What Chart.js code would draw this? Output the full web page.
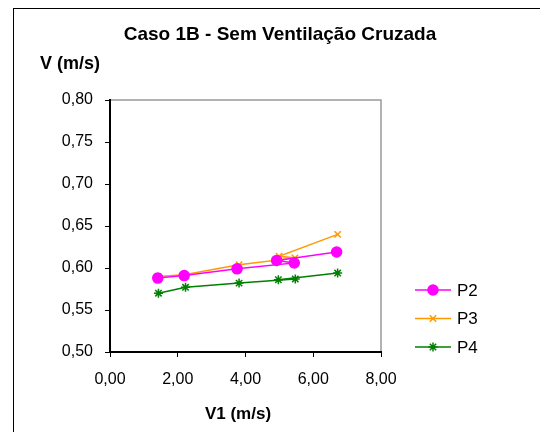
<!DOCTYPE html>
<html>
<head>
<meta charset="utf-8">
<script src="https://cdn.jsdelivr.net/npm/chart.js@4"></script>
<style>
  html, body { margin: 0; padding: 0; background: #fff; }
  #box { width: 540px; height: 432px; }
</style>
</head>
<body>
<div id="box"><canvas id="grafico" width="540" height="432"></canvas></div>
<script>
// dati (V1 in ascissa, V in ordinata)
const v1P2 = [1.41, 2.19, 3.75, 5.44, 4.92, 6.69];
const vP2  = [0.588, 0.591, 0.599, 0.606, 0.609, 0.619];
const v1P3 = [1.41, 2.19, 3.81, 5.46, 4.99, 6.72];
const vP3  = [0.590, 0.592, 0.604, 0.612, 0.614, 0.640];
const v1P4 = [1.43, 2.23, 3.81, 5.47, 4.97, 6.72];
const vP4  = [0.570, 0.577, 0.582, 0.587, 0.586, 0.594];
const serie = ['P2', 'P3', 'P4'];
const titolo = 'Caso 1B - Sem Ventilação Cruzada';
const titoloY = 'V (m/s)';
const titoloX = 'V1 (m/s)';

function punti(xs, ys) {
    return xs.map((x, i) => ({ x: x, y: ys[i] }));
}

const virgola = (v) => v.toFixed(2).replace('.', ',');

// cornice esterna, bordo grigio dell'area, titoli e legenda
const decorazioni = {
    id: 'decorazioni',
    beforeDraw(chart) {
        const c = chart.ctx, a = chart.chartArea;
        c.save();
        c.fillStyle = '#fff';
        c.fillRect(0, 0, chart.width, chart.height);
        c.strokeStyle = '#000';
        c.lineWidth = 1;
        c.strokeRect(13.5, 8.5, 600, 500);
        c.strokeStyle = '#999';
        c.lineWidth = 1.5;
        c.beginPath();
        c.moveTo(a.left, a.top);
        c.lineTo(a.right, a.top);
        c.lineTo(a.right, a.bottom);
        c.stroke();
        c.fillStyle = '#000';
        c.textBaseline = 'middle';
        c.textAlign = 'center';
        c.font = 'bold 19px "Liberation Sans", Arial, sans-serif';
        c.fillText(titolo, 280, 35);
        c.font = 'bold 18px "Liberation Sans", Arial, sans-serif';
        c.textAlign = 'left';
        c.fillText(titoloY, 40, 64);
        c.font = 'bold 17px "Liberation Sans", Arial, sans-serif';
        c.textAlign = 'center';
        c.fillText(titoloX, 238, 414);
        c.restore();
    },
    afterDraw(chart) {
        const c = chart.ctx;
        c.save();
        chart.data.datasets.forEach((ds, i) => {
            const y = 290 + i * 28.5;
            c.strokeStyle = ds.borderColor;
            c.fillStyle = ds.backgroundColor;
            c.lineWidth = 1.5;
            c.beginPath();
            c.moveTo(415, y);
            c.lineTo(451, y);
            c.stroke();
            Chart.helpers.drawPoint(c, {
                pointStyle: ds.pointStyle,
                radius: ds.pointRadius,
                borderWidth: 1.5
            }, 433, y);
            c.fillStyle = '#000';
            c.font = '17px "Liberation Sans", Arial, sans-serif';
            c.textAlign = 'left';
            c.textBaseline = 'middle';
            c.fillText(ds.label, 457, y + 1);
        });
        c.restore();
    }
};

const assi = {
    color: '#000',
    font: { family: '"Liberation Sans", Arial, sans-serif', size: 16 }
};

const ctx = document.getElementById('grafico').getContext('2d');
const grafico = new Chart(ctx, {
    type: 'scatter',
    data: {
        datasets: [
            { label: serie[0], data: punti(v1P2, vP2), borderColor: '#FF00FF', backgroundColor: '#FF00FF',
              pointStyle: 'circle', pointRadius: 5 },
            { label: serie[1], data: punti(v1P3, vP3), borderColor: '#FF9900', backgroundColor: '#FF9900',
              pointStyle: 'crossRot', pointRadius: 4.5 },
            { label: serie[2], data: punti(v1P4, vP4), borderColor: '#008000', backgroundColor: '#008000',
              pointStyle: 'star', pointRadius: 4.5 }
        ].map(d => Object.assign(d, { showLine: true, borderWidth: 1.5, pointBorderWidth: 1.5 }))
    },
    options: {
        responsive: false,
        animation: false,
        layout: { padding: { left: 20, top: 100, right: 159, bottom: 40 } },
        plugins: {
            legend: { display: false },
            title: { display: false },
            tooltip: { enabled: false }
        },
        scales: {
            x: {
                min: 0, max: 8,
                afterFit: (s) => { s.height = 40; },
                ticks: { stepSize: 2, color: assi.color, font: assi.font, padding: 13,
                         callback: (v) => virgola(v) },
                grid: { drawOnChartArea: false, color: '#000', tickLength: 5 },
                border: { color: '#000', width: 2 }
            },
            y: {
                min: 0.5, max: 0.8,
                afterFit: (s) => { s.width = 90; },
                ticks: { stepSize: 0.05, color: assi.color, font: assi.font, padding: 12,
                         callback: (v) => virgola(v) },
                grid: { drawOnChartArea: false, color: '#000', tickLength: 5 },
                border: { color: '#000', width: 2 }
            }
        }
    },
    plugins: [decorazioni]
});
</script>
</body>
</html>
